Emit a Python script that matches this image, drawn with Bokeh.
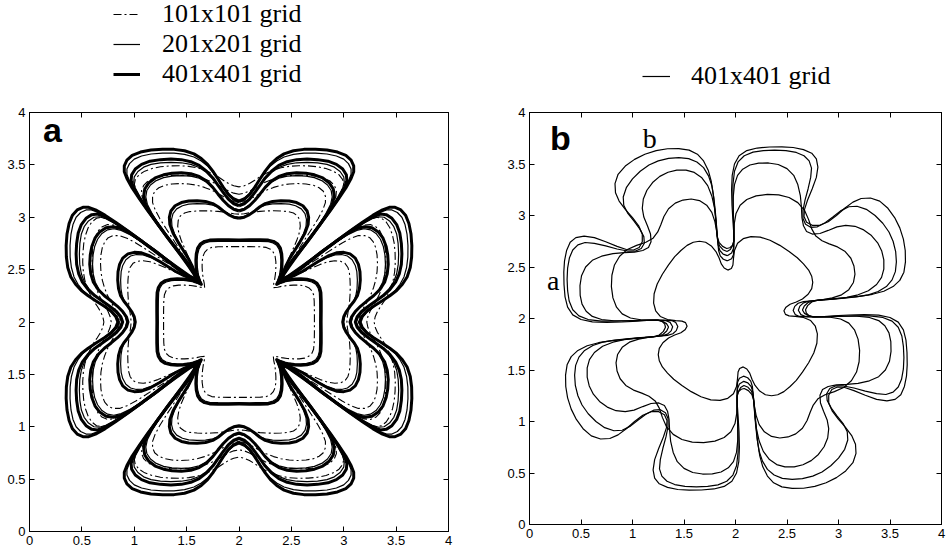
from bokeh.plotting import figure
from bokeh.layouts import row, column
from bokeh.models import (Range1d, FixedTicker, LinearAxis, Legend, LegendItem,
                          Label, CustomJSTickFormatter)
from bokeh.embed import file_html
from bokeh.resources import INLINE

# ---------------- data ----------------
tick_values = [0, 0.5, 1, 1.5, 2, 2.5, 3, 3.5, 4]
tick_labels = ["0", "0.5", "1", "1.5", "2", "2.5", "3", "3.5", "4"]

legend_a = ["101x101 grid", "201x201 grid", "401x401 grid"]
legend_b = "401x401 grid"

# Panel a: one octant of each contour (top centre -> diagonal slit tip), D4 symmetric
A_T1_401 = [(2.00,2.784),(1.90,2.785),(1.80,2.785),(1.72,2.782),(1.67,2.770),(1.63,2.745),(1.605,2.705),(1.592,2.650),(1.588,2.590),(1.590,2.530),(1.598,2.470),(1.610,2.420),(1.625,2.390),(1.640,2.360)]
A_T1_201 = [(2.00,2.770),(1.90,2.771),(1.80,2.770),(1.72,2.767),(1.675,2.755),(1.64,2.732),(1.618,2.695),(1.605,2.645),(1.600,2.590),(1.602,2.530),(1.609,2.470),(1.620,2.422),(1.633,2.390),(1.645,2.355)]
A_T1_101 = [(2.00,2.720),(1.90,2.720),(1.80,2.718),(1.74,2.712),(1.70,2.695),(1.672,2.665),(1.655,2.625),(1.648,2.575),(1.648,2.520),(1.652,2.460),(1.660,2.405),(1.668,2.370),(1.672,2.328)]

A_T2_401 = [(2.00,2.990),(1.95,3.000),(1.90,3.025),(1.85,3.060),(1.80,3.100),(1.75,3.130),(1.68,3.150),(1.60,3.158),(1.52,3.155),(1.45,3.140),(1.39,3.110),(1.35,3.060),(1.335,3.000),(1.34,2.930),(1.37,2.850),(1.42,2.760),(1.47,2.680),(1.52,2.600),(1.555,2.530),(1.58,2.470),(1.59,2.430),(1.595,2.405)]
A_T2_201 = [(2.00,3.000),(1.95,3.008),(1.90,3.030),(1.85,3.062),(1.80,3.095),(1.75,3.115),(1.68,3.127),(1.60,3.130),(1.52,3.125),(1.46,3.110),(1.405,3.080),(1.37,3.035),(1.356,2.980),(1.36,2.915),(1.385,2.840),(1.43,2.755),(1.48,2.672),(1.525,2.595),(1.558,2.528),(1.58,2.468),(1.59,2.428),(1.595,2.405)]
A_T2_101 = [(2.00,3.030),(1.95,3.034),(1.90,3.042),(1.85,3.050),(1.80,3.056),(1.74,3.060),(1.67,3.062),(1.60,3.060),(1.53,3.054),(1.48,3.040),(1.44,3.012),(1.42,2.970),(1.415,2.915),(1.425,2.850),(1.45,2.775),(1.485,2.695),(1.52,2.615),(1.55,2.545),(1.572,2.480),(1.586,2.435),(1.593,2.407)]

A_T3_401 = [(2.00,3.060),(1.95,3.075),(1.90,3.110),(1.85,3.160),(1.80,3.220),(1.75,3.285),(1.69,3.345),(1.62,3.390),(1.54,3.415),(1.45,3.425),(1.36,3.420),(1.28,3.405),(1.20,3.375),(1.14,3.330),(1.10,3.270),(1.09,3.200),(1.11,3.120),(1.16,3.030),(1.23,2.925),(1.31,2.815),(1.39,2.710),(1.46,2.615),(1.52,2.530),(1.565,2.465),(1.59,2.420),(1.60,2.400)]
A_T3_201 = [(2.00,3.072),(1.95,3.086),(1.90,3.118),(1.85,3.165),(1.80,3.222),(1.75,3.282),(1.69,3.335),(1.62,3.372),(1.54,3.392),(1.45,3.398),(1.36,3.393),(1.28,3.378),(1.21,3.350),(1.155,3.308),(1.12,3.255),(1.11,3.195),(1.125,3.125),(1.17,3.035),(1.235,2.928),(1.31,2.818),(1.39,2.710),(1.46,2.615),(1.515,2.532),(1.56,2.466),(1.585,2.422),(1.597,2.400)]
A_T3_101 = [(2.00,3.140),(1.95,3.150),(1.90,3.170),(1.85,3.198),(1.80,3.228),(1.74,3.258),(1.67,3.285),(1.60,3.305),(1.52,3.318),(1.44,3.322),(1.36,3.318),(1.29,3.305),(1.235,3.282),(1.195,3.248),(1.175,3.200),(1.175,3.140),(1.20,3.070),(1.245,2.985),(1.305,2.890),(1.37,2.790),(1.43,2.695),(1.485,2.605),(1.535,2.525),(1.57,2.462),(1.59,2.420),(1.60,2.400)]

A_T4_401 = [(2.00,3.110),(1.95,3.128),(1.90,3.170),(1.85,3.235),(1.80,3.305),(1.75,3.375),(1.69,3.440),(1.62,3.495),(1.54,3.530),(1.45,3.550),(1.35,3.555),(1.25,3.550),(1.15,3.535),(1.07,3.505),(1.01,3.460),(0.975,3.405),(0.97,3.350),(0.99,3.290),(1.04,3.200),(1.10,3.110),(1.17,3.010),(1.25,2.900),(1.33,2.790),(1.41,2.685),(1.48,2.595),(1.54,2.515),(1.58,2.455),(1.60,2.415),(1.61,2.390)]
A_T4_201 = [(2.00,3.122),(1.95,3.140),(1.90,3.180),(1.85,3.240),(1.80,3.305),(1.75,3.368),(1.69,3.427),(1.62,3.475),(1.54,3.505),(1.45,3.520),(1.35,3.524),(1.25,3.519),(1.16,3.505),(1.09,3.478),(1.035,3.437),(1.00,3.385),(0.995,3.335),(1.01,3.280),(1.055,3.195),(1.11,3.108),(1.18,3.008),(1.255,2.900),(1.335,2.790),(1.41,2.688),(1.48,2.597),(1.535,2.518),(1.575,2.458),(1.598,2.418),(1.607,2.393)]
A_T4_101 = [(2.00,3.220),(1.95,3.230),(1.90,3.250),(1.85,3.278),(1.80,3.308),(1.74,3.338),(1.67,3.365),(1.60,3.385),(1.52,3.397),(1.43,3.402),(1.34,3.400),(1.26,3.391),(1.19,3.373),(1.13,3.345),(1.09,3.305),(1.07,3.255),(1.075,3.195),(1.105,3.125),(1.16,3.040),(1.23,2.940),(1.30,2.835),(1.38,2.725),(1.45,2.630),(1.51,2.545),(1.56,2.475),(1.59,2.430),(1.605,2.397)]

A_T5_401 = [(2.00,3.150),(1.95,3.170),(1.90,3.215),(1.85,3.285),(1.80,3.365),(1.75,3.440),(1.70,3.505),(1.64,3.560),(1.57,3.605),(1.48,3.635),(1.38,3.648),(1.27,3.650),(1.16,3.642),(1.06,3.622),(0.98,3.590),(0.93,3.545),(0.905,3.490),(0.905,3.435),(0.93,3.370),(0.98,3.280),(1.05,3.175),(1.13,3.060),(1.22,2.940),(1.31,2.820),(1.40,2.705),(1.48,2.605),(1.545,2.520),(1.59,2.460),(1.615,2.420),(1.620,2.385)]
A_T5_201 = [(2.00,3.165),(1.95,3.185),(1.90,3.228),(1.85,3.293),(1.80,3.365),(1.75,3.432),(1.70,3.490),(1.64,3.537),(1.57,3.575),(1.48,3.600),(1.38,3.612),(1.27,3.613),(1.16,3.604),(1.07,3.585),(1.00,3.555),(0.955,3.512),(0.93,3.460),(0.93,3.410),(0.955,3.345),(1.00,3.262),(1.065,3.165),(1.14,3.055),(1.23,2.935),(1.315,2.818),(1.40,2.705),(1.48,2.603),(1.54,2.522),(1.585,2.460),(1.61,2.418),(1.617,2.385)]
A_T5_101 = [(2.00,3.290),(1.95,3.300),(1.90,3.322),(1.85,3.353),(1.80,3.387),(1.74,3.420),(1.67,3.450),(1.60,3.472),(1.52,3.486),(1.43,3.492),(1.34,3.490),(1.25,3.482),(1.17,3.465),(1.10,3.440),(1.045,3.405),(1.01,3.360),(1.00,3.310),(1.02,3.245),(1.065,3.165),(1.13,3.065),(1.21,2.950),(1.29,2.835),(1.37,2.725),(1.45,2.625),(1.52,2.535),(1.57,2.470),(1.60,2.425),(1.612,2.390)]

# Panel b: one quarter of each contour (top slit bottom -> towards left slit), C4 symmetric
B_C1 = [(1.925,2.470),(1.890,2.490),(1.862,2.530),(1.840,2.590),(1.810,2.650),(1.765,2.705),(1.710,2.740),(1.650,2.750),(1.590,2.740),(1.530,2.710),(1.470,2.660),(1.410,2.600),(1.350,2.520),(1.290,2.430),(1.240,2.335),(1.210,2.240),(1.205,2.150),(1.225,2.075),(1.270,2.020),(1.340,1.990),(1.420,1.980),(1.480,1.975),(1.515,1.960)]
B_C2 = [(1.922,2.560),(1.882,2.575),(1.852,2.608),(1.836,2.660),(1.828,2.740),(1.818,2.840),(1.800,2.940),(1.770,3.030),(1.720,3.100),(1.650,3.145),(1.570,3.160),(1.490,3.150),(1.415,3.120),(1.350,3.065),(1.305,2.990),(1.275,2.910),(1.245,2.840),(1.200,2.780),(1.130,2.740),(1.040,2.710),(0.950,2.670),(0.875,2.605),(0.825,2.520),(0.800,2.420),(0.795,2.310),(0.810,2.200),(0.845,2.110),(0.900,2.045),(0.980,2.005),(1.080,1.988),(1.190,1.985),(1.300,1.985),(1.380,1.980),(1.420,1.962)]
B_C3 = [(1.920,2.610),(1.880,2.625),(1.848,2.660),(1.830,2.720),(1.822,2.820),(1.812,2.950),(1.795,3.080),(1.770,3.190),(1.730,3.290),(1.670,3.370),(1.600,3.418),(1.520,3.440),(1.430,3.440),(1.345,3.420),(1.265,3.380),(1.195,3.320),(1.140,3.245),(1.105,3.160),(1.095,3.070),(1.110,2.985),(1.145,2.900),(1.175,2.820),(1.180,2.745),(1.155,2.690),(1.100,2.660),(1.020,2.645),(0.920,2.640),(0.810,2.630),(0.700,2.605),(0.610,2.565),(0.545,2.500),(0.505,2.415),(0.490,2.320),(0.492,2.225),(0.510,2.140),(0.550,2.070),(0.610,2.020),(0.700,1.990),(0.820,1.978),(0.960,1.978),(1.100,1.982),(1.230,1.985),(1.320,1.980),(1.365,1.962)]
B_C4 = [(1.918,2.650),(1.878,2.668),(1.845,2.705),(1.826,2.770),(1.816,2.880),(1.805,3.030),(1.790,3.170),(1.770,3.290),(1.738,3.385),(1.690,3.465),(1.625,3.520),(1.545,3.552),(1.450,3.562),(1.350,3.555),(1.250,3.530),(1.160,3.490),(1.075,3.430),(1.000,3.355),(0.940,3.270),(0.910,3.180),(0.915,3.100),(0.955,3.020),(1.015,2.945),(1.070,2.870),(1.110,2.795),(1.115,2.730),(1.085,2.680),(1.030,2.655),(0.950,2.655),(0.850,2.675),(0.740,2.705),(0.630,2.730),(0.540,2.738),(0.470,2.715),(0.420,2.665),(0.388,2.590),(0.370,2.490),(0.365,2.380),(0.370,2.270),(0.385,2.170),(0.420,2.085),(0.480,2.025),(0.570,1.990),(0.700,1.975),(0.850,1.975),(1.000,1.980),(1.130,1.985),(1.240,1.985),(1.290,1.972),(1.330,1.950)]
B_C5 = [(1.915,2.680),(1.875,2.700),(1.840,2.740),(1.822,2.800),(1.812,2.900),(1.800,3.050),(1.785,3.200),(1.765,3.330),(1.735,3.440),(1.690,3.530),(1.630,3.595),(1.550,3.635),(1.450,3.650),(1.340,3.648),(1.230,3.630),(1.120,3.595),(1.020,3.545),(0.930,3.480),(0.860,3.400),(0.830,3.310),(0.835,3.220),(0.870,3.140),(0.930,3.060),(1.000,2.980),(1.060,2.900),(1.095,2.820),(1.095,2.745),(1.065,2.690),(1.010,2.665),(0.940,2.670),(0.850,2.700),(0.740,2.745),(0.630,2.785),(0.530,2.800),(0.450,2.785),(0.395,2.740),(0.360,2.660),(0.340,2.560),(0.333,2.450),(0.335,2.330),(0.345,2.210),(0.370,2.110),(0.420,2.035),(0.500,1.990),(0.610,1.968),(0.750,1.962),(0.900,1.966),(1.050,1.975),(1.170,1.983),(1.250,1.985),(1.290,1.970),(1.313,1.945)]

# line styles of the three grids
STYLE_101 = dict(line_color="black", line_width=1.1, line_dash="8 3 2 3")
STYLE_201 = dict(line_color="black", line_width=1.2)
STYLE_401 = dict(line_color="black", line_width=3, line_join="round")
STYLE_B = dict(line_color="black", line_width=1.2)


# ---------------- geometry helpers (symmetry of the pictured patterns) ----------------
def d4_closed(octant):
    ox = [p[0] for p in octant]
    oy = [p[1] for p in octant]
    qx = ox + [4 - y for y in reversed(oy)]
    qy = oy + [4 - x for x in reversed(ox)]
    hx = qx + list(reversed(qx))
    hy = qy + [4 - y for y in reversed(qy)]
    fx = hx + [4 - x for x in reversed(hx)]
    fy = hy + list(reversed(hy))
    return fx, fy


def c4_closed(quarter):
    xs, ys = [], []
    for k in range(4):
        for (x, y) in quarter:
            for _ in range(k):
                x, y = 4 - y, x
            xs.append(x)
            ys.append(y)
    xs.append(xs[0])
    ys.append(ys[0])
    return xs, ys


def style_axes(p):
    p.grid.visible = False
    p.outline_line_color = "black"
    p.outline_line_width = 1
    p.background_fill_color = "white"
    p.border_fill_color = "white"
    overrides = {v: l for v, l in zip(tick_values, tick_labels)}
    for ax in list(p.xaxis) + list(p.yaxis):
        ax.ticker = FixedTicker(ticks=tick_values)
        ax.major_label_overrides = overrides
        ax.major_tick_in = 5
        ax.major_tick_out = 0
        ax.minor_tick_line_color = None
        ax.major_tick_line_color = "black"
        ax.axis_line_color = "black"
        ax.major_label_standoff = 4
        ax.major_label_text_font = "Liberation Sans"
        ax.major_label_text_font_size = "13px"
        ax.major_label_text_color = "black"
    for side in ("above", "right"):
        ax = LinearAxis(ticker=FixedTicker(ticks=tick_values),
                        formatter=CustomJSTickFormatter(code="return ''"),
                        major_tick_in=5, major_tick_out=0,
                        minor_tick_line_color=None, axis_line_color="black",
                        major_label_standoff=0, major_label_text_font_size="1px")
        p.add_layout(ax, side)


def legend_strip(width, height):
    # a strip that only hosts the key; its view (y 10..11) lies away from the data
    f = figure(width=width, height=height, x_range=Range1d(0, 4), y_range=Range1d(10, 11),
               x_axis_location=None, y_axis_location=None, toolbar_location=None,
               output_backend="svg", min_border=0, outline_line_color=None)
    f.grid.visible = False
    return f


# ---------------- contours ----------------
levels = [(A_T1_401, A_T1_201, A_T1_101), (A_T2_401, A_T2_201, A_T2_101),
          (A_T3_401, A_T3_201, A_T3_101), (A_T4_401, A_T4_201, A_T4_101),
          (A_T5_401, A_T5_201, A_T5_101)]
xs401, ys401, xs201, ys201, xs101, ys101 = [], [], [], [], [], []
for c401, c201, c101 in levels:
    x, y = d4_closed(c401); xs401.append(x); ys401.append(y)
    x, y = d4_closed(c201); xs201.append(x); ys201.append(y)
    x, y = d4_closed(c101); xs101.append(x); ys101.append(y)

bx, by = [], []
for q in (B_C1, B_C2, B_C3, B_C4, B_C5):
    x, y = c4_closed(q)
    bx.append(x)
    by.append(y)

# ---------------- legend strips (above the panels) ----------------
la = legend_strip(480, 100)
k101 = la.multi_line(xs101, ys101, **STYLE_101)
k201 = la.multi_line(xs201, ys201, **STYLE_201)
k401 = la.multi_line(xs401, ys401, **STYLE_401)
la.add_layout(Legend(items=[LegendItem(label=legend_a[0], renderers=[k101]),
                            LegendItem(label=legend_a[1], renderers=[k201]),
                            LegendItem(label=legend_a[2], renderers=[k401])],
                     location=(113, 11), orientation="vertical",
                     label_text_font="Liberation Serif", label_text_font_size="26px",
                     label_text_line_height=1.0,
                     label_text_color="black", glyph_width=27, glyph_height=20,
                     label_standoff=22, label_height=20, spacing=0, padding=0, margin=0,
                     background_fill_alpha=0, border_line_alpha=0))

lb = legend_strip(470, 100)
kb = lb.multi_line(bx, by, **STYLE_B)
lb.add_layout(Legend(items=[LegendItem(label=legend_b, renderers=[kb])],
                     location=(162, 9), orientation="vertical",
                     label_text_font="Liberation Serif", label_text_font_size="26px",
                     label_text_color="black", glyph_width=28, glyph_height=20,
                     label_standoff=21, label_height=20, padding=0, margin=0,
                     background_fill_alpha=0, border_line_alpha=0))

# ---------------- panel a ----------------
pa = figure(frame_width=419, frame_height=419, x_range=Range1d(0, 4), y_range=Range1d(0, 4),
            output_backend="svg", toolbar_location=None,
            min_border_left=29, min_border_right=32, min_border_top=12, min_border_bottom=20)
style_axes(pa)
pa.multi_line(xs101, ys101, **STYLE_101)
pa.multi_line(xs201, ys201, **STYLE_201)
pa.multi_line(xs401, ys401, **STYLE_401)
pa.add_layout(Label(x=0.13, y=3.65, text="a", text_font="Liberation Sans",
                    text_font_style="bold", text_font_size="34px", text_color="black"))

# ---------------- panel b ----------------
pb = figure(frame_width=412, frame_height=412, x_range=Range1d(0, 4), y_range=Range1d(0, 4),
            output_backend="svg", toolbar_location=None,
            min_border_left=49, min_border_right=9, min_border_top=12, min_border_bottom=27)
style_axes(pb)
pb.multi_line(bx, by, **STYLE_B)
pb.add_layout(Label(x=0.20, y=3.57, text="b", text_font="Liberation Sans",
                    text_font_style="bold", text_font_size="34px", text_color="black"))
pb.add_layout(Label(x=0.17, y=2.22, text="a", text_font="Liberation Serif",
                    text_font_size="28px", text_color="black"))
pb.add_layout(Label(x=1.10, y=3.60, text="b", text_font="Liberation Serif",
                    text_font_size="28px", text_color="black"))

layout = column(row(la, lb), row(pa, pb))
open("out.html", "w").write(file_html(layout, INLINE))
